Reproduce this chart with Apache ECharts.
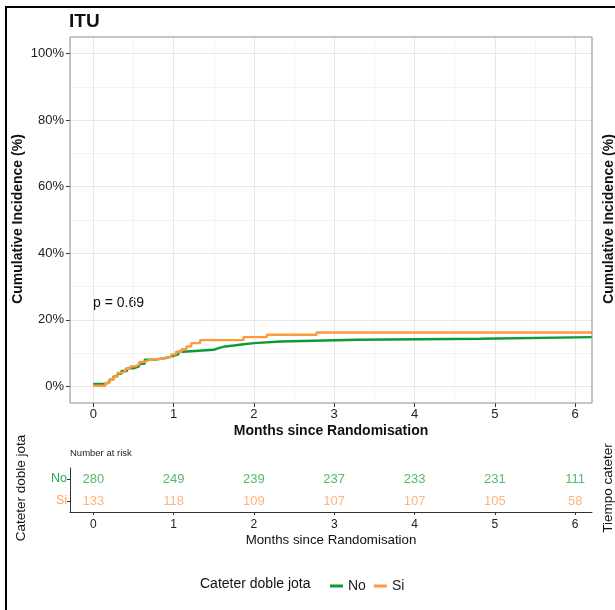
<!DOCTYPE html>
<html><head><meta charset="utf-8">
<script src="https://cdn.jsdelivr.net/npm/echarts@6/dist/echarts.min.js"></script>
<style>html,body{margin:0;padding:0;background:#fff}#c{width:615px;height:610px}</style>
</head><body><div id="c"></div>
<script>
// ---- data ----
const siTime = [0, 0.15, 0.2, 0.25, 0.3, 0.35, 0.4, 0.46, 0.52, 0.57, 0.63, 0.69, 0.9, 0.97, 1.03, 1.1, 1.16, 1.22, 1.33, 1.87, 2.16, 2.78, 6.21];
const siInc  = [0.2, 1.0, 2.0, 3.0, 4.0, 4.6, 5.3, 6.0, 6.5, 7.3, 7.9, 8.4, 8.9, 9.6, 10.4, 11.2, 12.0, 13.0, 13.9, 14.8, 15.5, 16.2, 16.2];
const noTime = [0, 0.15, 0.2, 0.25, 0.3, 0.35, 0.42, 0.5, 0.57, 0.64, 0.75, 0.89, 0.98, 1.06, 1.12, 1.5, 1.56, 1.64, 1.75, 1.85, 2.0, 2.33, 3.29, 4.82, 6.21];
const noInc  = [0.7, 1.3, 2.0, 3.0, 3.8, 4.6, 5.4, 6.0, 6.8, 8.0, 8.5, 9.0, 9.6, 10.4, 11.0, 11.5, 12.0, 12.3, 12.6, 13.0, 13.5, 14.0, 14.3, 14.8, 14.8];
const riskTimes = [0, 1, 2, 3, 4, 5, 6];
const riskNo = [280, 249, 239, 237, 233, 231, 111];
const riskSi = [133, 118, 109, 107, 107, 105, 58];
const groups = ['Si', 'No']; // bottom to top
const pValue = 'p = 0.69';

// ---- styles / layout ----
const GREEN = '#0f9a3a', ORANGE = '#ff9a3c';
const GREEN_T = '#2aa84a', ORANGE_T = '#ffa35f';
const FONT = '"Liberation Sans", Arial, sans-serif';
const P = {L: 70, R: 592, T: 37, B: 403};
const X = {min: -0.29, max: 6.21};
const Y = {min: -5, max: 105};
const px = x => P.L + (x - X.min) / (X.max - X.min) * (P.R - P.L);
const py = y => P.B - (y - Y.min) / (Y.max - Y.min) * (P.B - P.T);
const TB = {T: 468, H: 44};

const chart = echarts.init(document.getElementById('c'), null, {renderer: 'canvas'});
const option = {
  animation: false,
  backgroundColor: '#fff',
  textStyle: {fontFamily: FONT},
  grid: [
    {left: P.L, top: P.T, width: P.R - P.L, height: P.B - P.T, show: true, backgroundColor: 'transparent', borderColor: '#8a8a8a', borderWidth: 1, z: 10, containLabel: false, outerBoundsMode: 'none'},
    {left: px(0), top: P.T, width: px(6) - px(0), height: P.B - P.T, containLabel: false, outerBoundsMode: 'none'},
    {left: P.L, top: py(100), width: P.R - P.L, height: py(0) - py(100), containLabel: false, outerBoundsMode: 'none'},
    {left: P.L, top: TB.T, width: P.R - P.L, height: TB.H, containLabel: false, outerBoundsMode: 'none'},
    {left: px(0), top: TB.T, width: px(6) - px(0), height: TB.H, containLabel: false, outerBoundsMode: 'none'}
  ],
  xAxis: [
    {gridIndex: 0, type: 'value', min: X.min, max: X.max, show: false},
    {gridIndex: 1, type: 'value', min: 0, max: 6, interval: 1,
      axisLine: {show: false}, axisTick: {show: true, length: 4, lineStyle: {color: '#333'}},
      axisLabel: {show: true, margin: 5, fontSize: 13, color: '#222'},
      splitLine: {show: true, lineStyle: {color: '#e8e8e8', width: 1}},
      minorTick: {show: false, splitNumber: 2},
      minorSplitLine: {show: true, lineStyle: {color: '#f3f3f3', width: 1}}},
    {gridIndex: 2, type: 'value', min: 0, max: 1, show: false},
    {gridIndex: 3, type: 'value', min: 0, max: 1,
      axisLine: {show: true, lineStyle: {color: '#333', width: 1}}, axisTick: {show: false}, axisLabel: {show: false}, splitLine: {show: false}},
    {gridIndex: 4, type: 'value', min: 0, max: 6, interval: 1,
      axisLine: {show: false}, axisTick: {show: true, length: 3, lineStyle: {color: '#333'}},
      axisLabel: {show: true, margin: 7, fontSize: 12, color: '#222'}, splitLine: {show: false}}
  ],
  yAxis: [
    {gridIndex: 0, type: 'value', min: Y.min, max: Y.max, show: false},
    {gridIndex: 1, type: 'value', min: 0, max: 1, show: false},
    {gridIndex: 2, type: 'value', min: 0, max: 100, interval: 20,
      axisLine: {show: false}, axisTick: {show: true, length: 4, lineStyle: {color: '#333'}},
      axisLabel: {show: true, margin: 6, fontSize: 13, color: '#222', formatter: '{value}%'},
      splitLine: {show: true, lineStyle: {color: '#e8e8e8', width: 1}},
      minorTick: {show: false, splitNumber: 2},
      minorSplitLine: {show: true, lineStyle: {color: '#f3f3f3', width: 1}}},
    {gridIndex: 3, type: 'category', data: groups, boundaryGap: true,
      axisLine: {show: true, lineStyle: {color: '#333', width: 1}},
      axisTick: {show: true, alignWithLabel: true, length: 3, lineStyle: {color: '#333'}},
      axisLabel: {show: true, margin: 3, fontSize: 12.5, color: (v) => v === 'No' ? GREEN_T : ORANGE_T},
      splitLine: {show: false}},
    {gridIndex: 4, type: 'category', data: groups, boundaryGap: true, show: false}
  ],
  legend: {
    data: ['No', 'Si'], left: 325, top: 574, icon: 'rect', itemWidth: 13, itemHeight: 3, itemGap: 8,
    textStyle: {fontSize: 14, color: '#222', fontFamily: FONT}
  },
  series: [
    {name: 'No', type: 'line', step: 'end', xAxisIndex: 0, yAxisIndex: 0, showSymbol: false, symbol: 'none',
      lineStyle: {color: GREEN, width: 2.4}, itemStyle: {color: GREEN}, z: 3,
      data: noTime.map((t, i) => [t, noInc[i]])},
    {name: 'Si', type: 'line', step: 'end', xAxisIndex: 0, yAxisIndex: 0, showSymbol: false, symbol: 'none',
      lineStyle: {color: ORANGE, width: 2.4}, itemStyle: {color: ORANGE}, z: 4,
      data: siTime.map((t, i) => [t, siInc[i]])},
    {type: 'scatter', xAxisIndex: 4, yAxisIndex: 4, symbolSize: 1, itemStyle: {color: 'rgba(0,0,0,0)'}, silent: true,
      label: {show: true, position: 'inside', formatter: p => String(p.value[2]), color: GREEN_T, fontSize: 13},
      data: riskTimes.map((t, i) => [t, 'No', riskNo[i]])},
    {type: 'scatter', xAxisIndex: 4, yAxisIndex: 4, symbolSize: 1, itemStyle: {color: 'rgba(0,0,0,0)'}, silent: true,
      label: {show: true, position: 'inside', formatter: p => String(p.value[2]), color: ORANGE_T, fontSize: 13},
      data: riskTimes.map((t, i) => [t, 'Si', riskSi[i]])}
  ],
  graphic: [
    {type: 'rect', shape: {x: 6, y: 7, width: 700, height: 700}, style: {fill: 'none', stroke: '#000', lineWidth: 2}, silent: true},
    {type: 'text', x: 69, y: 22, style: {text: 'ITU', font: 'bold 19px ' + FONT, fill: '#111', textAlign: 'left', textVerticalAlign: 'middle'}},
    {type: 'text', x: 18, y: 219, rotation: Math.PI / 2, style: {text: 'Cumulative Incidence (%)', font: 'bold 14px ' + FONT, fill: '#111', textAlign: 'center', textVerticalAlign: 'middle'}},
    {type: 'text', x: 609, y: 219, rotation: Math.PI / 2, style: {text: 'Cumulative Incidence (%)', font: 'bold 14px ' + FONT, fill: '#111', textAlign: 'center', textVerticalAlign: 'middle'}},
    {type: 'text', x: (P.L + P.R) / 2, y: 431, style: {text: 'Months since Randomisation', font: 'bold 14px ' + FONT, fill: '#111', textAlign: 'center', textVerticalAlign: 'middle'}},
    {type: 'text', x: 93, y: 303, style: {text: pValue, font: '14px ' + FONT, fill: '#111', textAlign: 'left', textVerticalAlign: 'middle'}},
    {type: 'text', x: 70, y: 453, style: {text: 'Number at risk', font: '9.5px ' + FONT, fill: '#222', textAlign: 'left', textVerticalAlign: 'middle'}},
    {type: 'text', x: (P.L + P.R) / 2, y: 540, style: {text: 'Months since Randomisation', font: '13.3px ' + FONT, fill: '#111', textAlign: 'center', textVerticalAlign: 'middle'}},
    {type: 'text', x: 21, y: 488, rotation: Math.PI / 2, style: {text: 'Cateter doble jota', font: '13.5px ' + FONT, fill: '#111', textAlign: 'center', textVerticalAlign: 'middle'}},
    {type: 'text', x: 608, y: 488, rotation: Math.PI / 2, style: {text: 'Tiempo cateter', font: '13.5px ' + FONT, fill: '#111', textAlign: 'center', textVerticalAlign: 'middle'}},
    {type: 'text', x: 200, y: 584, style: {text: 'Cateter doble jota', font: '14px ' + FONT, fill: '#111', textAlign: 'left', textVerticalAlign: 'middle'}}
  ]
};
chart.setOption(option);
</script></body></html>
